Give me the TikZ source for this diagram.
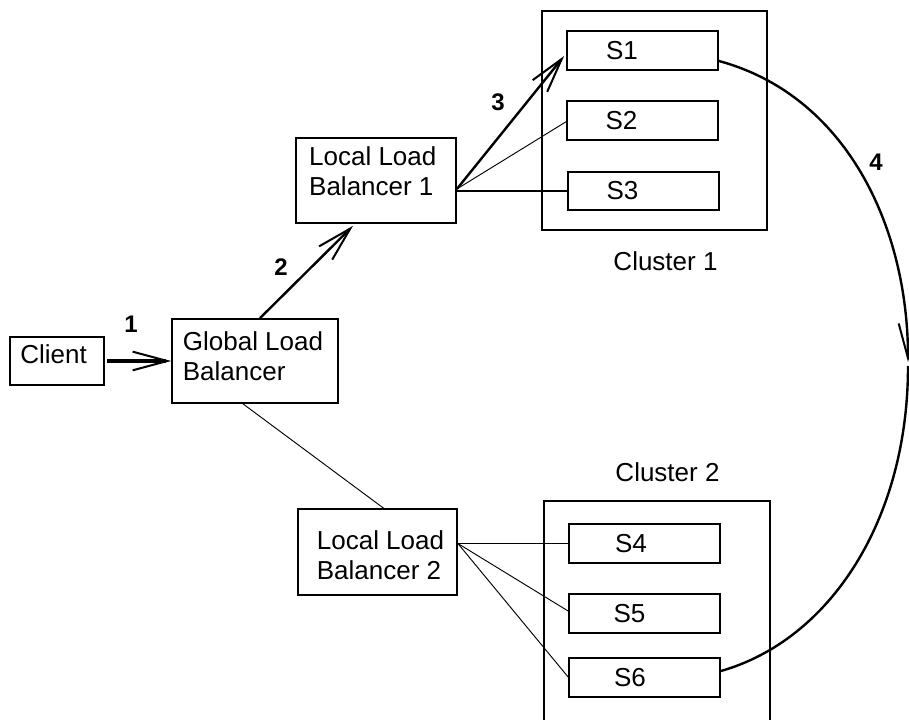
\documentclass[tikz,border=0pt]{standalone}
\usepackage{fontspec}
\setmainfont{Liberation Sans}
\usetikzlibrary{arrows.meta,calc}
\tikzset{
  x=0.75pt,y=-0.75pt,
  box/.style={draw=black,line width=1.3pt,inner sep=0pt,fill=none},
  lbl/.style={font=\fontsize{19.5}{22.5}\selectfont,align=left,inner sep=0pt,anchor=center},
  num/.style={font=\fontsize{18}{20}\selectfont\bfseries,inner sep=0pt},
  barb/.style={-{Straight Barb[length=26pt,width=14pt,line width=1.5pt]}},
  thin link/.style={line width=0.7pt},
  mid link/.style={line width=1.3pt},
  bold link/.style={line width=1.8pt},
}
\begin{document}
\begin{tikzpicture}
\clip (0,0) rectangle (909,720);
% clusters
\node[box,minimum width=168.75pt,minimum height=164.25pt] (c1) at (654.5,120.5) {};
\node[box,minimum width=169.5pt,minimum height=172.5pt] (c2) at (657,616) {};
\node[lbl] (c1t) at (665.5,261) {Cluster 1};
\node[lbl] (c2t) at (667.5,472.5) {Cluster 2};
% main boxes
\node[box,minimum width=70.5pt,minimum height=36pt,label={[lbl,xshift=-2.6pt,yshift=4.9pt]center:Client}] (client) at (57,361) {};
\node[box,minimum width=124.5pt,minimum height=63pt,label={[lbl,xshift=-1.5pt,yshift=3.4pt]center:{Global Load\\Balancer}}] (glob) at (255,361) {};
\node[box,minimum width=120pt,minimum height=63.75pt,label={[lbl,xshift=-2.4pt,yshift=6.6pt]center:{Local Load\\Balancer 1}}] (lb1) at (376,180.5) {};
\node[box,minimum width=119.25pt,minimum height=64.5pt,label={[lbl,xshift=2.25pt,yshift=-2.25pt]center:{Local Load\\Balancer 2}}] (lb2) at (377.5,552) {};
% servers
\node[box,minimum width=113.25pt,minimum height=29.25pt,label={[lbl,xshift=-15.4pt]center:S1}] (s1) at (642.5,50.5) {};
\node[box,minimum width=113.25pt,minimum height=29.25pt,label={[lbl,xshift=-15.75pt]center:S2}] (s2) at (642.5,120.5) {};
\node[box,minimum width=113.25pt,minimum height=28.5pt,label={[lbl,xshift=-15.75pt]center:S3}] (s3) at (643.5,191) {};
\node[box,minimum width=113.25pt,minimum height=29.25pt,label={[lbl,xshift=-10.1pt]center:S4}] (s4) at (644.5,543.5) {};
\node[box,minimum width=113.25pt,minimum height=29.25pt,label={[lbl,xshift=-11.25pt]center:S5}] (s5) at (644.5,613.5) {};
\node[box,minimum width=113.25pt,minimum height=29.25pt,label={[lbl,xshift=-10.9pt]center:S6}] (s6) at (644.5,677.5) {};
% step numbers
\node[num] (n1) at (131,324) {1};
\node[num] (n2) at (281,267) {2};
\node[num] (n3) at (498,102) {3};
\node[num] (n4) at (876,162) {4};
\coordinate (tip) at (908,362);
\coordinate (tipb) at (908,366);
% connectors
\draw[barb,line width=2.6pt,shorten <=1.5pt] (client.east) -- (glob.west);
\draw[barb,bold link] ($(glob.north)+(5,0)$) -- ($(lb1.south)+(-23,2)$);
\draw[barb,bold link] ($(lb1.east)+(0,8.5)$) -- ($(s1.west)+(-2,5.5)$);
\draw[thin link] ($(lb1.east)+(0,8.5)$) -- ($(s2.west)+(0,1.2)$);
\draw[mid link] ($(lb1.east)+(0,10.5)$) -- (s3.west);
\draw[thin link] ($(glob.south)+(-12,0)$) -- ($(lb2.north)+(6,0)$);
\draw[mid link] ($(lb2.east)+(0,-8.5)$) -- (s4.west);
\draw[thin link] ($(lb2.east)+(0,-8.5)$) -- ($(s5.west)+(0,-2.5)$);
\draw[thin link] ($(lb2.east)+(0,-8.5)$) -- ($(s6.west)+(0,-0.5)$);
\draw[barb,bold link] ($(s1.east)+(0,10.5)$) .. controls (845,95) and (908,225) .. (tip);
\draw[bold link] ($(s6.east)+(0,-6.5)$) .. controls (830,640) and (908,520) .. (tipb);
\end{tikzpicture}
\end{document}
